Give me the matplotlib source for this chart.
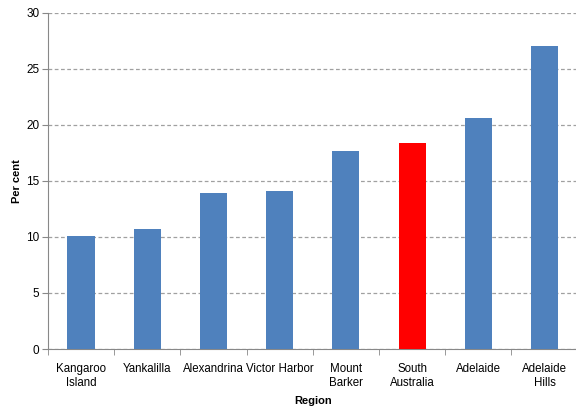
import matplotlib.pyplot as plt
import numpy as np

regions = ["Kangaroo\nIsland", "Yankalilla", "Alexandrina", "Victor Harbor",
           "Mount\nBarker", "South\nAustralia", "Adelaide", "Adelaide\nHills"]
values = [10.1, 10.7, 13.9, 14.1, 17.7, 18.4, 20.6, 27.0]
highlight = "South\nAustralia"

plt.rcParams["font.family"] = ["Liberation Sans", "DejaVu Sans"]

fig = plt.figure(figsize=(5.76, 4.07), dpi=100)
ax = fig.add_axes([0.083, 0.1425, 0.92, 0.826])

x = np.arange(len(regions))
colors = ["#ff0000" if r == highlight else "#4f81bd" for r in regions]
ax.bar(x, values, width=0.41, color=colors, zorder=3)

ax.set_xlim(-0.5, len(regions) - 0.5)
ax.set_ylim(0, 30)
ax.set_yticks(range(0, 31, 5))
ax.set_xticks(x)
ax.set_xticklabels(regions, fontsize=8.3, linespacing=1.25)
ax.set_xticks(np.arange(-0.5, len(regions), 1), minor=True)
ax.tick_params(axis="x", which="major", length=0, pad=10)
ax.tick_params(axis="x", which="minor", length=4, color="#888888")
ax.tick_params(axis="y", length=4, color="#888888", labelsize=8.5, pad=2)

ax.yaxis.grid(True, linestyle=(0, (3, 2)), color="#a0a0a0", linewidth=0.9, zorder=0)
for s in ["top", "right"]:
    ax.spines[s].set_visible(False)
for s in ["left", "bottom"]:
    ax.spines[s].set_color("#888888")

ax.set_xlabel("Region", fontsize=8, fontweight="bold", labelpad=5)
ax.set_ylabel("Per cent", fontsize=8, fontweight="bold", labelpad=3)

fig.savefig("out.png", dpi=100)
